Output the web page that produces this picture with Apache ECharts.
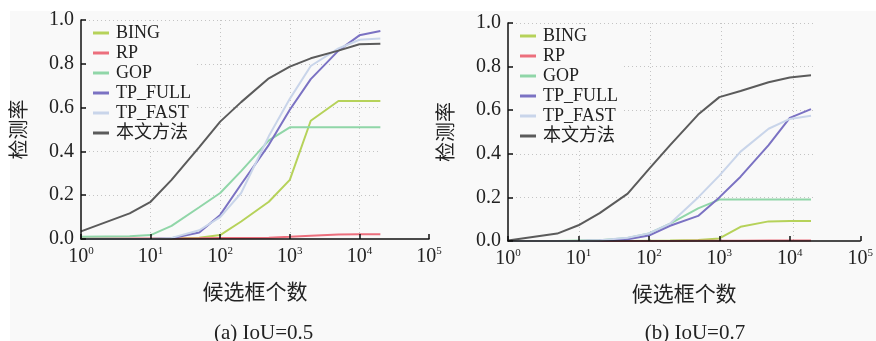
<!DOCTYPE html>
<html>
<head>
<meta charset="utf-8">
<script src="https://cdn.jsdelivr.net/npm/echarts@6/dist/echarts.min.js"></script>
<style>
  html, body { margin: 0; padding: 0; background: #ffffff; }
  #chart { width: 876px; height: 341px; }
</style>
</head>
<body>
<div id="chart"></div>
<script>
  // candidate box counts (log x axis)
  const xVals = [1, 5, 10, 20, 50, 100, 200, 500, 1000, 2000, 5000, 10000, 20000];
  const names = ['BING', 'RP', 'GOP', 'TP_FULL', 'TP_FAST', '本文方法'];
  const colors = ['#b6d25a', '#ec6f7d', '#90d6a8', '#7b72c3', '#c9d5ea', '#5b5b5b'];

  // (a) IoU=0.5
  const bingA = [0, 0, 0, 0.002, 0.006, 0.018, 0.08, 0.17, 0.27, 0.54, 0.63, 0.63, 0.63];
  const rpA = [0.002, 0.002, 0.002, 0.002, 0.003, 0.004, 0.005, 0.006, 0.01, 0.015, 0.02, 0.022, 0.022];
  const gopA = [0.01, 0.012, 0.018, 0.06, 0.145, 0.21, 0.31, 0.45, 0.51, 0.51, 0.51, 0.51, 0.51];
  const tpFullA = [0, 0, 0, 0.003, 0.03, 0.11, 0.25, 0.43, 0.59, 0.73, 0.86, 0.93, 0.95];
  const tpFastA = [0, 0, 0, 0.005, 0.04, 0.10, 0.21, 0.47, 0.64, 0.79, 0.87, 0.91, 0.915];
  const mineA = [0.035, 0.117, 0.17, 0.27, 0.42, 0.536, 0.625, 0.734, 0.787, 0.825, 0.86, 0.889, 0.892];

  // (b) IoU=0.7
  const bingB = [0, 0, 0, 0, 0, 0.001, 0.002, 0.005, 0.012, 0.065, 0.09, 0.092, 0.092];
  const rpB = [0, 0, 0, 0, 0, 0, 0, 0.001, 0.001, 0.001, 0.002, 0.002, 0.002];
  const gopB = [0, 0, 0.002, 0.004, 0.014, 0.035, 0.08, 0.15, 0.19, 0.19, 0.19, 0.19, 0.19];
  const tpFullB = [0, 0, 0, 0.002, 0.008, 0.025, 0.07, 0.115, 0.2, 0.295, 0.44, 0.565, 0.605];
  const tpFastB = [0, 0, 0, 0.003, 0.015, 0.035, 0.08, 0.2, 0.3, 0.41, 0.515, 0.56, 0.575];
  const mineB = [0.002, 0.034, 0.072, 0.128, 0.217, 0.33, 0.44, 0.58, 0.66, 0.688, 0.728, 0.75, 0.76];

  const serif = "'Liberation Serif', 'Noto Sans CJK SC'";
  const txt = '#222';
  const bg = '#f9f9f9';

  const plots = [
    { left: 81, top: 20, width: 348, height: 219, data: [bingA, rpA, gopA, tpFullA, tpFastA, mineA], caption: '(a) IoU=0.5' },
    { left: 508, top: 23, width: 356, height: 218, data: [bingB, rpB, gopB, tpFullB, tpFastB, mineB], caption: '(b) IoU=0.7' }
  ];

  const chart = echarts.init(document.getElementById('chart'));

  let grid = [], xAxis = [], yAxis = [], series = [], legend = [], graphic = [];

  graphic.push({ type: 'rect', shape: { x: 10, y: 11, width: 866, height: 330 }, style: { fill: bg }, z: -10, silent: true });

  plots.forEach((p, i) => {
    // main grid with axes
    grid.push({ left: p.left, top: p.top, width: p.width, height: p.height });
    // overlay grid for the dotted gridlines (they stop at 2x10^4)
    const gw = p.width * Math.log10(20000) / 5;
    grid.push({ left: p.left, top: p.top, width: gw, height: p.height });

    xAxis.push({
      type: 'log', logBase: 10, min: 1, max: 100000, gridIndex: 2 * i, z: 10,
      name: '候选框个数', nameLocation: 'middle', nameGap: 44,
      nameTextStyle: { fontFamily: serif, fontSize: 21, color: txt },
      axisLine: { lineStyle: { color: '#111', width: 1.5 } },
      axisTick: { inside: true, length: 5, lineStyle: { color: '#111', width: 1.5 } },
      splitLine: { show: false },
      axisLabel: {
        margin: 7, color: txt,
        formatter: v => '{b|10}{s|' + Math.round(Math.log10(v)) + '}',
        rich: {
          b: { fontFamily: serif, fontSize: 20, color: txt, lineHeight: 22 },
          s: { fontFamily: serif, fontSize: 11, color: txt, lineHeight: 22, verticalAlign: 'top', padding: [0, 0, 10, 0] }
        }
      }
    });
    xAxis.push({
      type: 'log', logBase: 10, min: 1, max: 20000, gridIndex: 2 * i + 1,
      axisLine: { show: false }, axisTick: { show: false }, axisLabel: { show: false },
      splitLine: { show: true, showMinLine: false, showMaxLine: false, lineStyle: { type: [1, 3], color: '#c4c4c4', width: 1 } }
    });

    yAxis.push({
      type: 'value', min: 0, max: 1, interval: 0.2, gridIndex: 2 * i, z: 10,
      name: '检测率', nameLocation: 'middle', nameGap: 50, nameRotate: 90,
      nameTextStyle: { fontFamily: serif, fontSize: 20, color: txt },
      axisLine: { show: true, lineStyle: { color: '#111', width: 1.5 } },
      axisTick: { show: true, inside: true, length: 5, lineStyle: { color: '#111', width: 1.5 } },
      splitLine: { show: false },
      axisLabel: { margin: 7, fontFamily: serif, fontSize: 20, color: txt, formatter: v => v.toFixed(1) }
    });
    yAxis.push({
      type: 'value', min: 0, max: 1, interval: 0.2, gridIndex: 2 * i + 1,
      axisLine: { show: false }, axisTick: { show: false }, axisLabel: { show: false },
      splitLine: { show: true, showMinLine: false, lineStyle: { type: [1, 3], color: '#c4c4c4', width: 1 } }
    });

    names.forEach((n, k) => {
      series.push({
        name: n, type: 'line', xAxisIndex: 2 * i, yAxisIndex: 2 * i,
        data: xVals.map((x, j) => [x, p.data[k][j]]),
        showSymbol: false, symbol: 'none',
        lineStyle: { color: colors[k], width: 2 }, itemStyle: { color: colors[k] },
        z: 3 + k
      });
    });

    legend.push({
      data: names, orient: 'vertical', left: p.left + 6, top: p.top + 2,
      icon: 'rect', itemWidth: 16, itemHeight: 3, itemGap: 2,
      backgroundColor: bg, padding: [2, 4, 6, 6],
      textStyle: { fontFamily: serif, fontSize: 18, color: txt, padding: [0, 0, 0, 2] },
      z: 2
    });

    graphic.push({
      type: 'text', x: p.left + p.width * 0.525, y: 333,
      style: { text: p.caption, fontFamily: serif, fontSize: 21, fill: txt, align: 'center', verticalAlign: 'middle' }
    });
  });

  chart.setOption({
    backgroundColor: '#ffffff',
    animation: false,
    grid: grid,
    xAxis: xAxis,
    yAxis: yAxis,
    legend: legend,
    series: series,
    graphic: graphic
  });
</script>
</body>
</html>
